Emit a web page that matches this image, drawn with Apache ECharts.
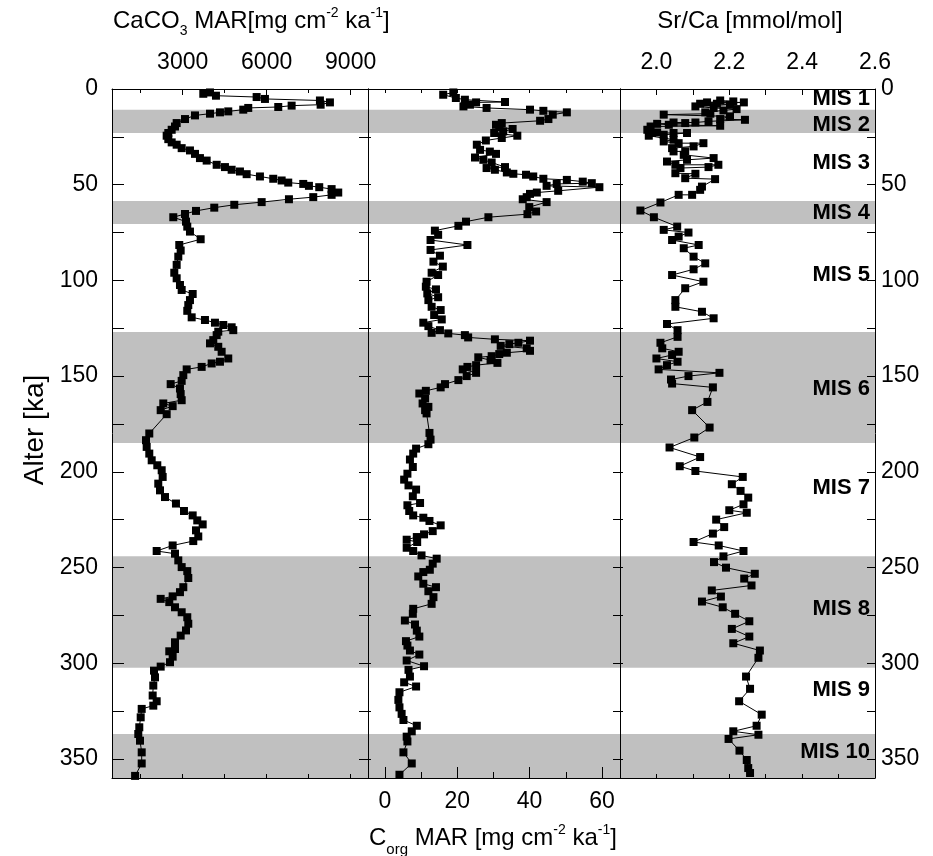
<!DOCTYPE html>
<html><head><meta charset="utf-8">
<script src="https://cdn.jsdelivr.net/npm/echarts@6/dist/echarts.min.js"></script>
<style>html,body{margin:0;padding:0;background:#fff}#c{width:933px;height:856px}</style>
</head><body><div id="c"></div>
<script>
// ---------- DATA ----------
const caco3Age = [1.8,2.5,3.5,4.2,5.2,6.0,7.0,8.2,8.7,9.4,9.9,10.8,11.7,12.2,12.9,13.8,15.7,17.8,19.6,21.3,23.0,24.4,26.2,27.9,29.1,30.9,32.1,33.9,36.1,37.4,39.6,40.8,42.2,43.1,44.5,45.7,46.9,47.8,48.9,49.6,50.6,51.3,52.3,54.1,55.3,56.5,57.6,59.1,60.5,62.0,63.7,65.3,67.0,69.3,71.9,74.5,78.5,81.5,84.4,87.6,91.9,96.0,98.9,102.4,105.0,107.1,110.3,112.9,115.9,119.3,120.7,122.1,123.3,124.5,126.0,126.8,128.6,131.2,132.9,134.7,137.3,140.8,142.5,143.4,145.2,146.5,149.5,152.5,154.2,156.5,159.4,162.6,164.3,165.7,167.8,169.9,180.0,183.5,187.0,190.5,194.0,196.6,199.2,202.7,206.2,209.7,213.2,216.6,220.5,222.8,225.4,227.5,230.6,233.8,236.2,238.5,241.4,242.8,246.3,249.8,251.9,255.5,260.3,262.9,265.1,266.4,268.1,270.8,273.4,276.0,279.4,282.9,285.6,289.1,292.6,293.8,296.6,299.5,301.8,303.9,307.4,311.7,316.9,319.9,322.2,323.9,328.3,333.5,337.0,340.5,346.6,352.4,358.9];
const caco3Val = [3975,3736,4189,5642,5939,7903,8260,7928,6892,6414,5342,5164,4628,4332,3975,3439,3082,2785,2725,2607,2486,2428,2486,2607,2785,2964,3260,3439,3617,3857,4214,4510,4749,5046,5285,5760,6235,6535,6771,7307,7510,7878,8320,8557,8320,7664,6796,5821,4843,4128,3475,3082,2664,3118,3164,3260,3642,2878,2928,2843,2785,2700,2785,2903,2964,3357,3260,3200,3164,3321,3796,4153,4450,4749,4807,4271,4214,4093,3975,4271,4392,4628,4332,4035,3678,3143,3022,2964,2571,2903,2928,2964,2307,2642,2214,2428,1807,1689,1714,1807,1893,2093,2250,2285,2128,2189,2368,2760,3046,3357,3521,3714,3475,3557,3378,2642,2071,2725,2843,2964,3164,3200,3022,2903,2642,2214,2521,2725,2964,3164,3200,3118,2928,2725,2725,2521,2642,2546,2214,1975,2011,1950,1928,2071,1950,1536,1500,1450,1414,1475,1536,1536,1300];

const corgAge = [1.8,3.0,4.7,5.6,6.8,7.0,8.2,9.1,9.9,10.8,11.4,12.2,13.4,15.7,16.6,17.8,18.7,19.9,20.9,22.2,23.0,24.4,25.6,26.9,29.1,31.8,32.7,33.9,35.8,37.0,38.4,40.8,41.3,42.2,43.6,44.3,44.8,45.7,46.9,47.5,48.4,49.2,49.6,50.6,51.3,53.2,54.1,54.8,56.5,57.6,59.1,61.7,64.0,65.4,67.0,69.3,71.5,74.0,76.2,78.9,81.5,84.1,87.1,90.2,92.8,96.0,97.2,100.7,103.3,104.7,106.8,108.8,110.3,113.8,115.5,118.1,120.4,122.1,123.9,126.0,127.4,127.7,128.6,129.8,130.8,131.5,132.6,133.3,134.2,135.5,136.8,137.8,138.5,139.6,140.2,141.7,143.1,144.3,145.2,146.5,148.3,150.0,152.1,154.2,155.9,157.7,159.1,161.7,164.3,166.1,167.8,169.5,179.7,183.2,185.6,187.9,190.5,193.6,197.5,201.0,204.1,207.1,209.3,212.8,216.3,217.5,220.5,222.8,224.0,225.7,228.0,231.0,232.7,234.1,235.5,236.7,239.7,241.4,243.7,245.4,248.0,251.2,252.4,254.7,258.5,260.3,262.4,265.5,269.0,271.6,274.2,277.7,279.8,283.0,286.1,288.5,290.8,293.4,295.5,298.6,301.6,303.5,307.0,310.0,312.2,315.2,319.2,323.1,326.5,329.7,332.7,335.6,338.4,340.9,346.6,352.4,358.3];
const corgVal = [18.9,16.1,19.6,22.1,33.2,25.2,23.5,21.7,28.1,40.1,43.8,50.3,46.4,45.2,42.9,32.3,30.7,31.6,35.3,32.7,30.2,36.6,32.3,27.9,25.4,26.3,29.0,30.7,24.9,27.2,29.5,33.2,28.1,30.4,33.7,35.5,39.0,41.0,43.8,50.3,54.7,57.2,47.5,44.7,59.3,47.9,42.0,40.1,39.2,38.1,44.7,39.9,41.8,39.4,28.6,22.4,20.3,13.8,14.7,12.6,22.8,12.6,15.2,13.4,16.0,12.9,14.7,11.5,11.3,14.1,11.7,14.7,12.0,12.9,15.4,13.6,15.7,10.6,12.0,15.2,12.9,17.5,22.1,23.0,30.4,40.1,36.9,34.4,32.0,39.2,40.1,33.7,31.6,29.5,25.8,29.2,31.1,25.2,22.8,21.5,25.2,22.6,20.3,16.6,15.4,11.3,9.5,11.1,10.4,12.0,11.1,11.5,12.3,12.6,12.0,8.6,7.8,6.9,7.7,6.2,5.3,6.5,8.6,7.7,9.7,6.2,6.7,7.8,10.6,12.3,15.4,13.2,10.8,8.8,6.0,8.9,6.0,7.8,10.1,14.3,13.2,12.4,10.6,9.2,10.6,14.1,12.0,13.4,12.9,7.8,7.7,5.5,8.3,8.8,9.5,5.8,6.2,6.9,9.5,6.0,10.8,6.5,6.9,5.3,8.6,4.0,3.7,4.0,4.6,5.1,8.8,7.4,6.0,6.2,5.1,7.4,4.0];

const srcaAge = [6.0,6.5,7.0,7.0,7.7,7.7,8.2,9.1,9.9,10.5,11.2,12.2,12.9,13.4,14.3,15.7,16.1,16.9,17.5,17.5,17.8,18.2,18.7,19.2,19.6,21.3,22.7,23.0,23.0,23.0,23.9,24.4,26.5,27.4,28.3,28.3,30.0,30.9,32.6,32.6,34.4,36.1,37.0,37.9,39.6,39.6,40.8,41.3,44.0,44.3,46.6,47.1,51.0,52.7,55.3,55.3,59.3,63.5,67.0,71.9,73.6,75.0,77.1,78.9,81.5,83.2,87.6,91.1,94.2,97.2,100.7,104.1,110.3,113.8,116.4,119.8,122.8,126.0,129.5,132.6,135.5,137.3,139.0,140.8,142.5,144.3,146.5,148.3,150.0,151.8,153.9,155.9,163.5,167.8,176.9,182.1,187.3,192.3,197.1,199.6,202.7,206.5,210.0,213.5,217.0,220.1,221.4,225.0,228.9,232.3,236.7,238.5,241.4,244.2,247.2,250.1,253.3,255.8,259.4,262.0,265.2,267.8,270.8,274.2,278.1,282.1,286.1,289.6,293.4,297.2,307.0,313.4,319.9,326.9,332.7,335.6,337.4,339.6,345.7,350.6,354.8,357.4];
const srcaVal = [2.175,2.211,2.139,2.240,2.120,2.166,2.202,2.107,2.157,2.220,2.184,2.134,2.148,2.020,2.202,2.175,2.243,2.143,2.107,2.047,2.079,2.002,2.034,2.175,1.984,1.975,2.002,1.988,2.047,2.084,2.020,1.979,2.047,2.020,2.061,2.129,2.102,2.043,2.047,2.079,2.075,2.157,2.084,2.029,2.052,2.170,2.143,2.066,2.052,2.107,2.079,2.161,2.125,2.120,2.098,2.061,2.011,1.956,1.993,2.057,2.020,2.088,2.061,2.043,2.116,2.075,2.102,2.134,2.102,2.043,2.129,2.079,2.052,2.052,2.125,2.157,2.029,2.058,2.058,2.011,2.016,2.061,2.043,2.000,2.058,2.029,2.006,2.173,2.088,2.040,2.043,2.155,2.140,2.098,2.146,2.104,2.036,2.120,2.064,2.107,2.237,2.207,2.231,2.252,2.239,2.200,2.248,2.164,2.186,2.155,2.102,2.171,2.239,2.184,2.158,2.191,2.270,2.241,2.261,2.152,2.177,2.125,2.182,2.216,2.255,2.207,2.255,2.211,2.284,2.280,2.246,2.257,2.227,2.289,2.275,2.211,2.280,2.198,2.228,2.248,2.252,2.257];

const bandStart = [10.8, 58.5, 127, 244.2, 337];
const bandEnd   = [23.0, 70.6, 185, 302.4, 360];

const misNames = ['MIS 1','MIS 2','MIS 3','MIS 4','MIS 5','MIS 6','MIS 7','MIS 8','MIS 9','MIS 10'];
const misAge   = [5.1, 18.7, 38.7, 64.9, 97.2, 156.9, 208.4, 271.6, 313.8, 346.2];

const ageTicks  = [0,25,50,75,100,125,150,175,200,225,250,275,300,325,350];
const ageLabels = [0,50,100,150,200,250,300,350];
const caco3Major = [3000,6000,9000];
const caco3Minor = [1500,4500,7500];
const corgMajor = [0,20,40,60];
const corgMinor = [10,30,50];
const srcaTicks = [2.0,2.1,2.2,2.3,2.4,2.5,2.6];
const srcaLabels = [2.0,2.2,2.4,2.6];

// ---------- CHART ----------
const FF = '"Liberation Sans", Arial, sans-serif';
const K = '#000';
const chart = echarts.init(document.getElementById('c'), null, {renderer: 'canvas'});

const grids = [
  {left: 112, top: 89, width: 256, height: 689},
  {left: 368, top: 89, width: 252, height: 689},
  {left: 620, top: 89, width: 255, height: 689}
];
const xRange = [[475, 9620], [-4.7, 65], [1.9, 2.6]];

function xAx(gi, pos, ticks, len, labels, margin, line, fmt) {
  return {
    type: 'value', gridIndex: gi, position: pos, min: xRange[gi][0], max: xRange[gi][1], z: 5,
    axisLine: {show: line !== false, onZero: false, lineStyle: {color: K, width: 1}},
    axisTick: {show: true, inside: true, length: len, customValues: ticks, lineStyle: {color: K, width: 1}},
    axisLabel: {show: !!labels, customValues: labels || [], margin: margin || 0, fontSize: 23, fontFamily: FF, color: K,
                formatter: fmt || (v => String(v))},
    splitLine: {show: false}
  };
}
function yAx(gi, pos, len, labels, margin) {
  return {
    type: 'value', gridIndex: gi, position: pos, inverse: true, min: 0, max: 360, z: 5,
    axisLine: {show: true, onZero: false, lineStyle: {color: K, width: 1}},
    axisTick: {show: true, inside: true, length: len, customValues: ageTicks, lineStyle: {color: K, width: 1}},
    axisLabel: {show: !!labels, customValues: labels || [], margin: margin || 0, fontSize: 23, fontFamily: FF, color: K},
    splitLine: {show: false}
  };
}

const xAxes = [
  xAx(0, 'top', caco3Major, 6, caco3Major, 15),                 // 0 data
  xAx(0, 'top', caco3Minor, 4, null, 0, false),                 // 1
  xAx(0, 'bottom', caco3Major.concat(caco3Minor), 4, null, 0),  // 2
  xAx(1, 'bottom', corgMajor, 11, corgMajor, 12),               // 3 data
  xAx(1, 'bottom', corgMinor, 6, null, 0, false),               // 4
  xAx(1, 'top', corgMajor.concat(corgMinor), 4, null, 0),       // 5
  xAx(2, 'top', srcaTicks, 6, srcaLabels, 15, true, v => v.toFixed(1)), // 6 data
  xAx(2, 'bottom', srcaTicks, 4, null, 0)                       // 7
];
const yAxes = [
  yAx(0, 'left', 12, ageLabels, 14), // 0 data
  yAx(0, 'right', 9),                // 1
  yAx(1, 'left', 3),                 // 2 data
  yAx(1, 'right', 7),                // 3
  yAx(2, 'left', 3),                 // 4 data
  yAx(2, 'right', 8, ageLabels, 6)   // 5
];

function zip(vals, ages) { return ages.map((a, i) => [vals[i], a]); }
const bandData = bandStart.map((s, i) => [s, bandEnd[i]]);

function bandSeries(xi, yi, gi) {
  return {
    type: 'custom', xAxisIndex: xi, yAxisIndex: yi, z: 1, silent: true, clip: true,
    data: bandData,
    renderItem: function (params, api) {
      const cs = params.coordSys;
      const y0 = api.coord([xRange[gi][0], api.value(0)])[1];
      const y1 = api.coord([xRange[gi][0], api.value(1)])[1];
      return {type: 'rect', shape: {x: cs.x, y: y0, width: cs.width, height: y1 - y0}, style: {fill: '#c0c0c0'}};
    }
  };
}
function dataSeries(xi, yi, data) {
  return {
    type: 'line', xAxisIndex: xi, yAxisIndex: yi, z: 3, data: data,
    symbol: 'rect', symbolSize: 8, showAllSymbol: true,
    itemStyle: {color: K, opacity: 1}, lineStyle: {color: K, width: 1}, animation: false, silent: true
  };
}

function textEl(t, x, y, size, extra) {
  return Object.assign({type: 'text', x: x, y: y, style: {text: t, fontSize: size, fontFamily: FF, fill: K,
    align: 'left', verticalAlign: 'middle', textAlign: 'left', textVerticalAlign: 'middle'}}, extra || {});
}
const mctx = document.createElement('canvas').getContext('2d');
function tw(t, size) { mctx.font = size + 'px ' + FF; return mctx.measureText(t).width; }
function compose(parts, x0, yc) {
  const spec = {n: {s: 24, dy: 0}, sub: {s: 14, dy: 10}, sup: {s: 14, dy: -8}, subo: {s: 15, dy: 12}};
  let x = x0; const out = [];
  parts.forEach(p => { const s = spec[p[1]]; out.push(textEl(p[0], x, yc + s.dy, s.s)); x += tw(p[0], s.s); });
  return out;
}
const graphics = []
  .concat(compose([['CaCO', 'n'], ['3', 'sub'], [' MAR[mg cm', 'n'], ['-2', 'sup'], [' ka', 'n'], ['-1', 'sup'], [']', 'n']], 113, 21))
  .concat(compose([['C', 'n'], ['org', 'subo'], [' MAR [mg cm', 'n'], ['-2', 'sup'], [' ka', 'n'], ['-1', 'sup'], [']', 'n']], 369, 838))
  .concat([textEl('Sr/Ca [mmol/mol]', 750 - tw('Sr/Ca [mmol/mol]', 24) / 2, 21, 24)])
  .concat([{type: 'text', x: 35, y: 430, rotation: Math.PI / 2,
    style: {text: 'Alter [ka]', fontSize: 28, fontFamily: FF, fill: K, align: 'center', verticalAlign: 'middle',
            textAlign: 'center', textVerticalAlign: 'middle'}}]);

const option = {
  animation: false,
  backgroundColor: '#fff',
  grid: grids,
  xAxis: xAxes,
  yAxis: yAxes,
  graphic: graphics,
  series: [
    bandSeries(0, 0, 0), bandSeries(3, 2, 1), bandSeries(6, 4, 2),
    dataSeries(0, 0, zip(caco3Val, caco3Age)),
    dataSeries(3, 2, zip(corgVal, corgAge)),
    dataSeries(6, 4, zip(srcaVal, srcaAge)),
    {
      type: 'scatter', xAxisIndex: 6, yAxisIndex: 4, z: 6, symbolSize: 0, clip: false, silent: true,
      itemStyle: {color: K, opacity: 1},
      data: misAge.map((a, i) => [2.6, a, misNames[i]]),
      label: {show: true, position: 'left', distance: 5, formatter: p => p.data[2], opacity: 1,
              fontSize: 22, fontWeight: 'bold', fontFamily: FF, color: K, textBorderWidth: 0}
    }
  ]
};
chart.setOption(option);
</script>
</body></html>
